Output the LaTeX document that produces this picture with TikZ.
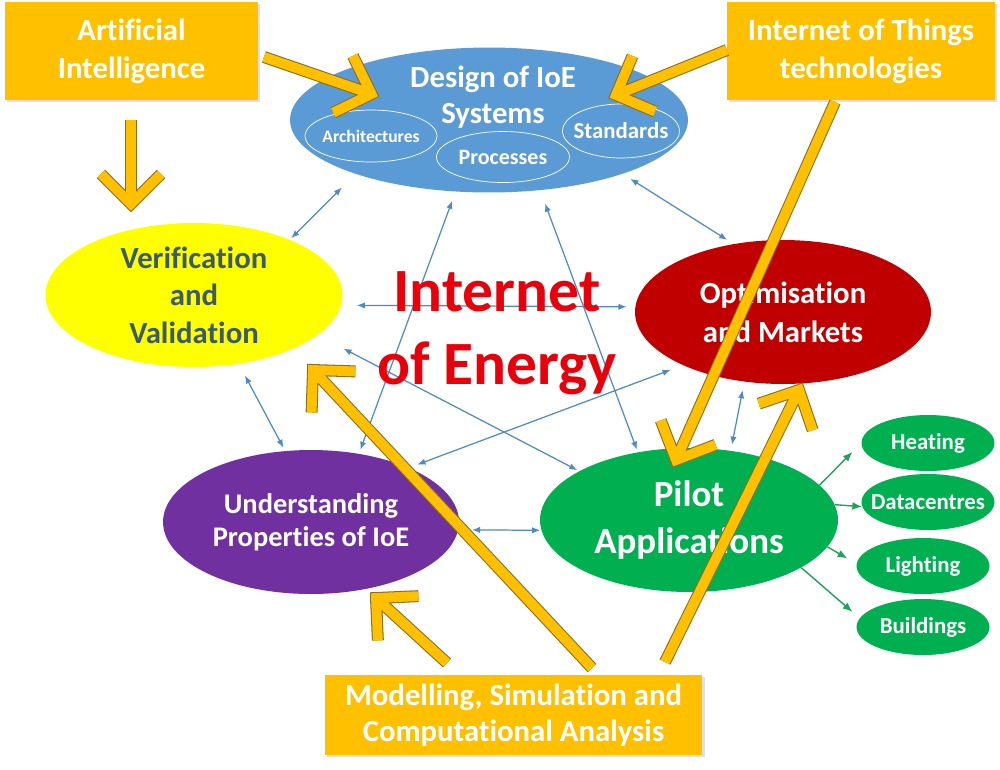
\documentclass[tikz,border=0pt]{standalone}
\usepackage{fontspec}
\setmainfont{Carlito}[Ligatures=NoCommon]
\usetikzlibrary{arrows.meta,shapes.geometric,calc,shadows}
\definecolor{boxorange}{HTML}{FFC000}
\definecolor{arrowedge}{HTML}{8C6D1F}
\definecolor{designblue}{HTML}{5B9BD5}
\definecolor{linkblue}{HTML}{4E8AC8}
\definecolor{verifyellow}{HTML}{FFFF00}
\definecolor{verifink}{HTML}{3B5A6A}
\definecolor{optimred}{HTML}{C00000}
\definecolor{propviolet}{HTML}{7030A0}
\definecolor{pilotgreen}{HTML}{00B050}
\definecolor{appgreen}{HTML}{1FA35A}
\definecolor{ioered}{HTML}{E8000B}
\tikzset{
  topic/.style={ellipse,inner sep=0pt,align=center,
                minimum width=5.94cm,minimum height=2.88cm},
  subtopic/.style={ellipse,draw=white,line width=0.4pt,inner xsep=-6pt,
                   inner ysep=0pt,text=white},
  appnode/.style={ellipse,fill=pilotgreen,text=white,inner xsep=-7pt,
                  inner ysep=0pt,minimum width=2.66cm,minimum height=1.12cm,
                  font=\bfseries\fontsize{13}{15}\selectfont},
  srcbox/.style={fill=boxorange,text=white,align=center,inner sep=0pt,
                 drop shadow={opacity=0.25,shadow xshift=1.2pt,shadow yshift=-1.2pt},
                 font=\bfseries\fontsize{17.5}{21.5}\selectfont},
  bluearr/.style={{Latex[length=4.6pt,width=3.6pt]}-{Latex[length=4.6pt,width=3.6pt]},
                  line width=0.7pt,draw=linkblue},
  greenarr/.style={-{Latex[length=5.5pt,width=4.4pt]},line width=0.8pt,
                   draw=appgreen},
  blockarr/.style={line width=6.8pt,draw=arrowedge,line join=miter,
                   postaction={draw=boxorange,line width=5.6pt}}
}
\newcommand{\blockarrow}[2]{%
  \draw[blockarr] (#1) -- (#2)
    ($(#2)!0.85cm!45:(#1)$) -- (#2) -- ($(#2)!0.85cm!-45:(#1)$);}

\begin{document}
\begin{tikzpicture}[x=0.02cm,y=-0.02cm]
  \useasboundingbox (0,0) rectangle (1000,769);
  \fill[white] (0,0) rectangle (1000,769);

  % sources
  \node[srcbox,minimum width=5.06cm,minimum height=1.96cm] (ai) at (131.5,51)
    {Artificial\\Intelligence};
  \node[srcbox,minimum width=5.36cm,minimum height=1.96cm] (iot) at (861,51)
    {Internet of Things\\technologies};
  \node[srcbox,minimum width=7.56cm,minimum height=1.6cm,
        font=\bfseries\fontsize{17.5}{20.5}\selectfont] (model) at (513.5,715)
    {Modelling, Simulation and\\Computational Analysis};

  % topics
  \node[topic,fill=designblue,minimum width=7.96cm,minimum height=2.9cm]
    (design) at (489,120) {};
  \node[subtopic,minimum width=2.64cm,minimum height=1.04cm,
        font=\bfseries\fontsize{10}{12}\selectfont] (arch) at (371,136) {Architectures};
  \node[subtopic,minimum width=2.66cm,minimum height=1.02cm,
        font=\bfseries\fontsize{12.5}{14}\selectfont] (proc) at (503,157) {Processes};
  \node[subtopic,minimum width=2.34cm,minimum height=1.08cm,
        font=\bfseries\fontsize{13}{15}\selectfont] (stand) at (621,131) {Standards};
  \node[text=white,align=center,font=\bfseries\fontsize{17.5}{20.4}\selectfont]
    (designlbl) at (493,97) {Design of IoE\\Systems};

  \node[topic,fill=verifyellow,text=verifink,
        font=\bfseries\fontsize{17.5}{21.3}\selectfont] (verif) at (194,295)
    {Verification\\and\\Validation};
  \node[topic,fill=optimred,text=white,minimum width=5.92cm,
        font=\bfseries\fontsize{17.5}{22}\selectfont] (optim) at (783,312)
    {Optimisation\\and Markets};
  \node[topic,fill=propviolet,text=white,minimum width=5.92cm,
        font=\bfseries\fontsize{16.2}{18.7}\selectfont] (props) at (311,522)
    {Understanding\\Properties of IoE};
  \node[topic,fill=pilotgreen,text=white,minimum width=5.96cm,
        font=\bfseries\fontsize{21}{26.6}\selectfont] (pilot) at (689,520)
    {Pilot\\Applications};

  % applications
  \node[appnode] (heat) at (928,443) {Heating};
  \node[appnode] (data) at (928,502) {Datacentres};
  \node[appnode] (light) at (923,566) {Lighting};
  \node[appnode] (build) at (923,627) {Buildings};

  % links between topics
  \draw[bluearr,shorten <=0.38cm,shorten >=0.04cm] (design.202) -- (verif.30);
  \draw[bluearr,shorten <=0.18cm,shorten >=0.15cm] (design.338) -- (optim.126);
  \draw[bluearr,shorten <=0.19cm,shorten >=0.08cm] (design.245) -- (props.55);
  \draw[bluearr,shorten <=0.28cm,shorten >=0.05cm] (design.306) -- (pilot.127);
  \draw[bluearr,shorten <=0.31cm,shorten >=0.17cm] (verif.356) -- (optim.178);
  \draw[bluearr,shorten <=0.26cm,shorten >=0.07cm] (verif.303) -- (props.110);
  \draw[bluearr,shorten <=0.58cm,shorten >=0.04cm] (verif.342) -- (pilot.156);
  \draw[bluearr,shorten <=0.18cm,shorten >=0.26cm] (props.29) -- (optim.208);
  \draw[bluearr,shorten <=0.27cm,shorten >=0.02cm] (props.357) -- (pilot.184);
  \draw[bluearr,shorten <=0.17cm,shorten >=0.12cm] (optim.241) -- (pilot.59);

  \draw[greenarr,shorten >=0.25cm] (pilot.15) -- (heat.180);
  \draw[greenarr] (pilot.6) -- (data.184);
  \draw[greenarr,shorten >=0.21cm] (pilot.349) -- (light.178);
  \draw[greenarr,shorten >=0.19cm] (pilot.337) -- (build.172);

  \node[text=ioered,align=center,font=\bfseries\fontsize{35}{41.4}\selectfont]
    (ioe) at (497,333) {Internet\\of Energy};

  % contributing fields
  \coordinate (aiR) at (264,57);     \coordinate (designL) at (371.5,94);
  \coordinate (aiB) at (131,120);    \coordinate (verifT) at (131,204);
  \coordinate (iotL) at (727,50);    \coordinate (designR) at (616,95);
  \coordinate (iotB) at (835,102);   \coordinate (pilotT) at (676,460);
  \coordinate (modelA) at (592,668); \coordinate (verifB) at (313,370);
  \coordinate (modelB) at (447,663); \coordinate (propsB) at (376,598);
  \coordinate (modelC) at (665,662); \coordinate (optimB) at (799,390);
  \blockarrow{aiR}{designL}
  \blockarrow{aiB}{verifT}
  \blockarrow{iotL}{designR}
  \blockarrow{iotB}{pilotT}
  \blockarrow{modelA}{verifB}
  \blockarrow{modelB}{propsB}
  \blockarrow{modelC}{optimB}
\end{tikzpicture}
\end{document}
